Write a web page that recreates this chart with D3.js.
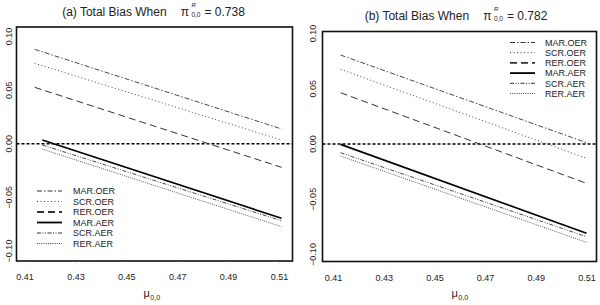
<!DOCTYPE html>
<html>
<head>
<meta charset="utf-8">
<script src="https://cdn.jsdelivr.net/npm/d3@7"></script>
<style>
  body { margin: 0; background: #fff; }
  text { font-family: "Liberation Sans", Arial, sans-serif; fill: #222; }
</style>
</head>
<body>
<div id="chart"></div>
<script>
// series names and tick values
var seriesNames = ["MAR.OER", "SCR.OER", "RER.OER", "MAR.AER", "SCR.AER", "RER.AER"];
var xTicks = [0.41, 0.43, 0.45, 0.47, 0.49, 0.51];
var yTicks = [-0.10, -0.05, 0.00, 0.05, 0.10];

// panel (a): pi = 0.738
var muA_OER = [0.414, 0.511];
var muA_AER = [0.417, 0.511];
var biasA_MAR_OER = [0.088, 0.0138];
var biasA_SCR_OER = [0.075, 0.0035];
var biasA_RER_OER = [0.0526, -0.022];
var biasA_MAR_AER = [0.0035, -0.0695];
var biasA_SCR_AER = [-0.0012, -0.0718];
var biasA_RER_AER = [-0.005, -0.0773];

// panel (b): pi = 0.782
var muB_OER = [0.413, 0.510];
var muB_AER = [0.413, 0.510];
var biasB_MAR_OER = [0.0805, 0.0012];
var biasB_SCR_OER = [0.0676, -0.0129];
var biasB_RER_OER = [0.0464, -0.0356];
var biasB_MAR_AER = [-0.0003, -0.0808];
var biasB_SCR_AER = [-0.0079, -0.0839];
var biasB_RER_AER = [-0.0109, -0.089];

// line styles, same order as seriesNames (lw = legend width)
var styles = [
  {dash: "5,2,1.5,2", w: 0.9, lw: 1, c: "#333"},
  {dash: "1,2.5", w: 0.9, lw: 1, c: "#333"},
  {dash: "7,4", w: 1.0, lw: 1.8, c: "#333"},
  {dash: null, w: 1.7, lw: 1.8, c: "#000"},
  {dash: "4,1.5,1,1.5,1,1.5", w: 0.9, lw: 1, c: "#333"},
  {dash: "1,1.2", w: 0.9, lw: 1, c: "#444"}
];

var svg = d3.select("#chart").append("svg")
  .attr("width", 600).attr("height", 305)
  .style("background", "#fff");

function toPoints(mu, vals) {
  return mu.map(function(m, i) { return {x: m, y: vals[i]}; });
}

var panels = [
  {
    label: "(a) Total Bias When", value: "= 0.738",
    box: {x0: 16.5, x1: 292.5, y0: 27, y1: 261},
    xr: [24.5, 279], yr: [251, 36.5],
    titleY: 15.5, titleCx: 153.5, yLabX: 11.5,
    leg: {x0: 37, x1: 62, tx: 73, y0: 191, dy: 10.5},
    series: [
      toPoints(muA_OER, biasA_MAR_OER), toPoints(muA_OER, biasA_SCR_OER), toPoints(muA_OER, biasA_RER_OER),
      toPoints(muA_AER, biasA_MAR_AER), toPoints(muA_AER, biasA_SCR_AER), toPoints(muA_AER, biasA_RER_AER)
    ]
  },
  {
    label: "(b) Total Bias When", value: "= 0.782",
    box: {x0: 322.5, x1: 596.5, y0: 31.5, y1: 261.5},
    xr: [333, 586.5], yr: [254.5, 33.5],
    titleY: 19.5, titleCx: 456, yLabX: 316,
    leg: {x0: 510, x1: 535, tx: 545, y0: 42.5, dy: 10.2},
    series: [
      toPoints(muB_OER, biasB_MAR_OER), toPoints(muB_OER, biasB_SCR_OER), toPoints(muB_OER, biasB_RER_OER),
      toPoints(muB_AER, biasB_MAR_AER), toPoints(muB_AER, biasB_SCR_AER), toPoints(muB_AER, biasB_RER_AER)
    ]
  }
];

panels.forEach(function(p) {
  var g = svg.append("g");
  var x = d3.scaleLinear().domain([0.41, 0.51]).range(p.xr);
  var y = d3.scaleLinear().domain([-0.10, 0.10]).range(p.yr);

  // x axis (labels only, faint ticks)
  var xa = g.append("g")
    .attr("transform", "translate(0," + p.box.y1 + ")")
    .call(d3.axisBottom(x).tickValues(xTicks).tickSize(4).tickPadding(9)
      .tickFormat(d3.format(".2f")));
  xa.select(".domain").remove();
  xa.selectAll(".tick line").attr("stroke", "#eee");
  xa.selectAll(".tick text").attr("font-size", 9).attr("fill", "#333")
    .attr("font-family", "Liberation Sans, Arial, sans-serif");

  // y tick labels, rotated like R
  g.selectAll(".ylab").data(yTicks).enter().append("text")
    .attr("transform", function(d) { return "translate(" + p.yLabX + "," + y(d) + ") rotate(-90)"; })
    .attr("text-anchor", "middle")
    .attr("font-size", 9)
    .attr("fill", "#333")
    .text(function(d) { return d3.format(".2f")(d); });

  // zero reference line
  g.append("line")
    .attr("x1", p.box.x0).attr("x2", p.box.x1)
    .attr("y1", y(0)).attr("y2", y(0))
    .attr("stroke", "#000").attr("stroke-width", 1.5)
    .attr("stroke-dasharray", "3,2");

  // series lines
  var line = d3.line().x(function(d) { return x(d.x); }).y(function(d) { return y(d.y); });
  g.selectAll(".series").data(p.series).enter().append("path")
    .attr("d", line)
    .attr("fill", "none")
    .attr("stroke", function(d, i) { return styles[i].c; })
    .attr("stroke-width", function(d, i) { return styles[i].w; })
    .attr("stroke-dasharray", function(d, i) { return styles[i].dash; });

  // plot box
  g.append("rect")
    .attr("x", p.box.x0).attr("y", p.box.y0)
    .attr("width", p.box.x1 - p.box.x0).attr("height", p.box.y1 - p.box.y0)
    .attr("fill", "none").attr("stroke", "#111").attr("stroke-width", 1.6);

  // legend
  var lg = g.append("g");
  seriesNames.forEach(function(name, i) {
    var ly = p.leg.y0 + i * p.leg.dy;
    lg.append("line")
      .attr("x1", p.leg.x0).attr("x2", p.leg.x1)
      .attr("y1", ly).attr("y2", ly)
      .attr("stroke", styles[i].c)
      .attr("stroke-width", styles[i].lw)
      .attr("stroke-dasharray", styles[i].dash);
    lg.append("text")
      .attr("x", p.leg.tx).attr("y", ly + 3.3)
      .attr("font-size", 9)
      .text(name);
  });

  // title: label  pi^R_{0,0} = value
  var tg = g.append("g");
  var t1 = tg.append("text").attr("x", 0).attr("y", p.titleY)
    .attr("font-size", 12).text(p.label);
  var w1 = t1.node().getComputedTextLength();
  var piX = w1 + 14;
  var pi = tg.append("text").attr("x", piX).attr("y", p.titleY)
    .attr("font-size", 12).attr("font-family", "Liberation Serif, serif").text("\u03C0");
  var piW = pi.node().getComputedTextLength();
  tg.append("text").attr("x", piX + piW + 2.5).attr("y", p.titleY - 8.5)
    .attr("font-size", 6).attr("font-style", "italic")
    .attr("font-family", "Liberation Serif, serif").text("R");
  var sub = tg.append("text").attr("x", piX + piW + 2.5).attr("y", p.titleY + 1.5)
    .attr("font-size", 6.5).attr("font-family", "Liberation Serif, serif").text("0,0");
  var subW = sub.node().getComputedTextLength();
  var t3 = tg.append("text").attr("x", piX + piW + 2.5 + subW + 4).attr("y", p.titleY)
    .attr("font-size", 12).text(p.value);
  var total = piX + piW + 2.5 + subW + 4 + t3.node().getComputedTextLength();
  tg.attr("transform", "translate(" + (p.titleCx - total / 2) + ",0)");

  // x axis title: mu_{0,0}
  var cx = (p.xr[0] + p.xr[1]) / 2;
  var ag = g.append("g");
  var mu = ag.append("text").attr("x", 0).attr("y", 297)
    .attr("font-size", 11).attr("font-family", "Liberation Serif, serif").text("\u03BC");
  var muW = mu.node().getComputedTextLength();
  var ms = ag.append("text").attr("x", muW + 0.5).attr("y", 300)
    .attr("font-size", 7).attr("font-family", "Liberation Serif, serif").text("0,0");
  var aw = muW + 0.5 + ms.node().getComputedTextLength();
  ag.attr("transform", "translate(" + (cx - aw / 2) + ",0)");
});
</script>
</body>
</html>
